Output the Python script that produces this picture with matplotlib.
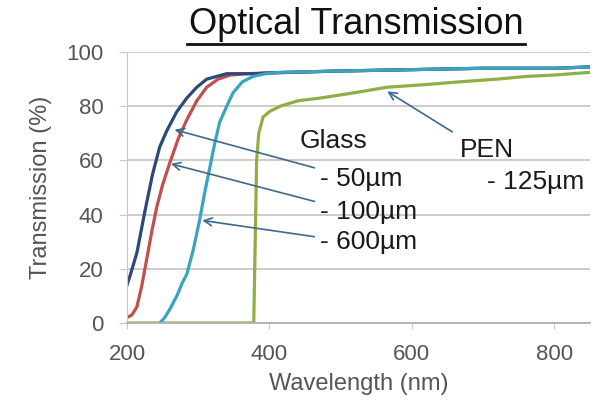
import matplotlib.pyplot as plt
from matplotlib.lines import Line2D

plt.rcParams['font.family'] = ['Liberation Sans', 'DejaVu Sans']

# Glass 50 um
wl_50 = [200, 205, 214, 225, 236, 246, 256, 270, 284, 298, 312, 326, 340, 360, 380, 400, 500, 600, 700, 800, 850]
t_50 = [14, 18, 26, 41, 55, 65, 71, 78, 83, 87, 90, 91, 92, 92, 92, 92.3, 93, 93.5, 94, 94, 94.5]

# Glass 100 um
wl_100 = [200, 207, 214, 221, 228, 235, 242, 250, 260, 272, 284, 298, 312, 328, 345, 368, 400, 500, 600, 700, 800, 850]
t_100 = [2, 3, 6, 14, 24, 34, 43, 51, 59, 68, 75, 82, 87, 90, 91.5, 92, 92.3, 93, 93.5, 94, 94, 94.5]

# Glass 600 um
wl_600 = [246, 253, 260, 270, 278, 284, 293, 302, 309, 316, 323, 330, 340, 349, 362, 377, 395, 415, 500, 600, 700, 800, 850]
t_600 = [0, 2, 5, 10, 15, 18, 27, 38, 48, 57, 66, 74, 80, 85, 89, 91, 92, 92.5, 93, 93.5, 94, 94, 94.5]

# PEN 125 um
wl_pen = [200, 378, 380, 382, 385, 391, 400, 415, 440, 471, 520, 565, 620, 667, 720, 761, 800, 850]
t_pen = [0, 0, 30, 60, 70, 76, 78, 80, 82, 83, 85, 87, 88, 89, 90, 91, 91.5, 92.5]

fig = plt.figure(figsize=(5.95, 4.07), dpi=100)
ax = fig.add_axes([0.2134, 0.2064, 0.7782, 0.6658])

ax.plot(wl_pen, t_pen, color='#8faf45', lw=2.3)
ax.plot(wl_100, t_100, color='#c0504d', lw=2.3)
ax.plot(wl_50, t_50, color='#2b4a78', lw=2.3)
ax.plot(wl_600, t_600, color='#3aa3bf', lw=2.3)

ax.set_xlim(200, 850)
ax.set_ylim(0, 100)
ax.set_xticks([200, 400, 600, 800])
ax.set_yticks([0, 20, 40, 60, 80, 100])
ax.yaxis.grid(True, color='#c8c8c8', lw=1.3)
ax.set_axisbelow(True)
for s in ['top', 'right']:
    ax.spines[s].set_visible(False)
ax.spines['left'].set_color('#c8c8c8')
ax.spines['bottom'].set_color('#b0b0b0')
ax.spines['bottom'].set_linewidth(1.3)
ax.tick_params(axis='y', length=6, pad=11, color='#c8c8c8', labelsize=16, labelcolor='#555555')
ax.tick_params(axis='x', length=4, pad=11, color='#c8c8c8', labelsize=16, labelcolor='#555555')
ax.set_xlabel('Wavelength (nm)', fontsize=17, color='#555555', labelpad=6)
ax.set_ylabel('Transmission (%)', fontsize=17, color='#555555', labelpad=10)

fig.text(356 / 595, 1 - 25 / 407, 'Optical Transmission', ha='center', va='center', fontsize=26, color='#111111')
fig.add_artist(Line2D([187 / 595, 525 / 595], [1 - 44 / 407, 1 - 44 / 407], color='#111111', lw=2))

arrow = dict(arrowstyle='->', color='#3d6a8c', lw=1.2, mutation_scale=14)
ax.annotate('', xy=(263, 71.6), xytext=(467, 57), arrowprops=arrow)
ax.annotate('', xy=(258, 59), xytext=(467, 44.6), arrowprops=arrow)
ax.annotate('', xy=(302, 38), xytext=(467, 31.7), arrowprops=arrow)
ax.annotate('', xy=(562, 86), xytext=(660, 70), arrowprops=arrow)

ax.text(443, 67, 'Glass', fontsize=19, color='#1a1a1a', va='center')
ax.text(471, 53, '- 50µm', fontsize=19, color='#1a1a1a', va='center')
ax.text(471, 41, '- 100µm', fontsize=19, color='#1a1a1a', va='center')
ax.text(471, 30, '- 600µm', fontsize=19, color='#1a1a1a', va='center')
ax.text(667, 64, 'PEN', fontsize=19, color='#1a1a1a', va='center')
ax.text(705, 52, '- 125µm', fontsize=19, color='#1a1a1a', va='center')

fig.savefig('out.png', dpi=100)
